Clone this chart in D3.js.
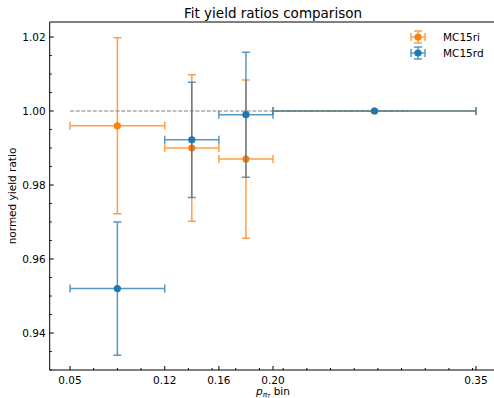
<!DOCTYPE html>
<html>
<head>
<meta charset="utf-8">
<script src="https://cdn.jsdelivr.net/npm/d3@7"></script>
<style>
  body { margin: 0; background: #fff; }
  text { font-family: "DejaVu Sans", sans-serif; fill: #000; }
</style>
</head>
<body>
<div id="chart"></div>
<script>
// bin edges of p_pi_T
var binLo = [0.05, 0.12, 0.16, 0.20];
var binHi = [0.12, 0.16, 0.20, 0.35];
var xTicks = [0.05, 0.12, 0.16, 0.20, 0.35];
var yTicks = [0.94, 0.96, 0.98, 1.00, 1.02];

// MC15ri
var riRatio = [0.996, 0.990, 0.987, 1.000];
var riErr   = [0.0238, 0.0198, 0.0214, 0];
// MC15rd
var rdRatio = [0.952, 0.9922, 0.999, 1.000];
var rdErr   = [0.0180, 0.0156, 0.0169, 0];

var series = [
  {name: "MC15ri", color: "#ff7f0e", y: riRatio, err: riErr},
  {name: "MC15rd", color: "#1f77b4", y: rdRatio, err: rdErr}
];

var width = 494, height = 398;
var svg = d3.select("#chart").append("svg")
  .attr("width", width).attr("height", height);

var xScale = d3.scaleLinear().domain([0.05, 0.35]).range([70, 476]);
var yScale = d3.scaleLinear().domain([0.94, 1.02]).range([333, 37]);
var x0 = xScale(0.035), x1 = xScale(0.365);
var y0 = yScale(0.93), y1 = yScale(1.02405);

// minor ticks
var xMinor = d3.range(0, 20).map(function(k){ return 0.05 + k*0.0175; })
  .filter(function(v){ return v < 0.365 && !xTicks.some(function(t){ return Math.abs(t-v) < 1e-6; }); });
var yMinor = d3.range(0.93, 1.0241, 0.005)
  .filter(function(v){ return !yTicks.some(function(t){ return Math.abs(t-v) < 1e-6; }); });

// reference line
svg.append("line")
  .attr("x1", xScale(0.05)).attr("x2", xScale(0.30))
  .attr("y1", yScale(1)).attr("y2", yScale(1))
  .attr("stroke", "#808080").attr("stroke-width", 1.1)
  .attr("stroke-dasharray", "4,1.7");

var cap = 4;
series.forEach(function(s){
  var g = svg.append("g");
  var eb = g.append("g").attr("stroke", s.color).attr("stroke-width", 1.5).attr("opacity", 0.75);
  binLo.forEach(function(lo, i){
    var hi = binHi[i], cx = xScale((lo+hi)/2), cy = yScale(s.y[i]);
    var yt = yScale(s.y[i] + s.err[i]), yb = yScale(s.y[i] - s.err[i]);
    var p = d3.path();
    p.moveTo(xScale(lo), cy); p.lineTo(xScale(hi), cy);
    p.moveTo(xScale(lo), cy-cap); p.lineTo(xScale(lo), cy+cap);
    p.moveTo(xScale(hi), cy-cap); p.lineTo(xScale(hi), cy+cap);
    if (s.err[i] > 0) {
      p.moveTo(cx, yt); p.lineTo(cx, yb);
      p.moveTo(cx-cap, yt); p.lineTo(cx+cap, yt);
      p.moveTo(cx-cap, yb); p.lineTo(cx+cap, yb);
    }
    eb.append("path").attr("d", p.toString()).attr("fill", "none");
  });
  g.selectAll("circle").data(s.y).enter().append("circle")
    .attr("cx", function(d, i){ return xScale((binLo[i]+binHi[i])/2); })
    .attr("cy", function(d){ return yScale(d); })
    .attr("r", 3.6).attr("fill", s.color);
});

// spines
var axisG = svg.append("g").attr("stroke", "#000").attr("fill", "none").attr("stroke-width", 1);
axisG.append("path").attr("d", "M" + x0 + "," + y1 + "V" + y0 + "H" + x1);
axisG.append("path").attr("d", "M" + x0 + "," + y1 + "H" + x1);

// ticks (inward)
xTicks.forEach(function(t){
  axisG.append("line").attr("x1", xScale(t)).attr("x2", xScale(t)).attr("y1", y0).attr("y2", y0-4);
  svg.append("text").attr("x", xScale(t)).attr("y", y0+13.5).attr("text-anchor", "middle")
    .attr("font-size", 10.5).text(t.toFixed(2));
});
xMinor.forEach(function(t){
  axisG.append("line").attr("x1", xScale(t)).attr("x2", xScale(t)).attr("y1", y0).attr("y2", y0-2);
});
yTicks.forEach(function(t){
  axisG.append("line").attr("x1", x0).attr("x2", x0+4).attr("y1", yScale(t)).attr("y2", yScale(t));
  svg.append("text").attr("x", x0-4).attr("y", yScale(t)+3.8).attr("text-anchor", "end")
    .attr("font-size", 10.5).text(t.toFixed(2));
});
yMinor.forEach(function(t){
  axisG.append("line").attr("x1", x0).attr("x2", x0+2).attr("y1", yScale(t)).attr("y2", yScale(t));
});

// title and labels
var cxAx = (x0 + x1) / 2;
svg.append("text").attr("x", cxAx).attr("y", 17.5).attr("text-anchor", "middle")
  .attr("font-size", 13.5).text("Fit yield ratios comparison");
svg.append("text").attr("transform", "translate(16," + ((y0+y1)/2) + ") rotate(-90)")
  .attr("text-anchor", "middle").attr("font-size", 10.5).text("normed yield ratio");
var xl = svg.append("text").attr("x", cxAx).attr("y", 395).attr("text-anchor", "middle").attr("font-size", 10.5);
xl.append("tspan").attr("font-style", "italic").text("p");
xl.append("tspan").attr("font-style", "italic").attr("font-size", 7.5).attr("dy", 2).text("π");
xl.append("tspan").attr("font-style", "italic").attr("font-size", 5).attr("dy", 1).text("T");
xl.append("tspan").attr("dy", -3).text(" bin");

// legend
series.forEach(function(s, i){
  var ly = 37 + i*16, lx = 418;
  var lg = svg.append("g");
  var p = d3.path();
  p.moveTo(lx-7, ly); p.lineTo(lx+7, ly);
  p.moveTo(lx-7, ly-4); p.lineTo(lx-7, ly+4);
  p.moveTo(lx+7, ly-4); p.lineTo(lx+7, ly+4);
  p.moveTo(lx, ly-6); p.lineTo(lx, ly+6);
  p.moveTo(lx-4, ly-6); p.lineTo(lx+4, ly-6);
  p.moveTo(lx-4, ly+6); p.lineTo(lx+4, ly+6);
  lg.append("path").attr("d", p.toString()).attr("stroke", s.color).attr("stroke-width", 1.5)
    .attr("opacity", 0.75).attr("fill", "none");
  lg.append("circle").attr("cx", lx).attr("cy", ly).attr("r", 3.6).attr("fill", s.color);
  svg.append("text").attr("x", 443).attr("y", ly+3.8).attr("font-size", 10.5).text(s.name);
});
</script>
</body>
</html>
